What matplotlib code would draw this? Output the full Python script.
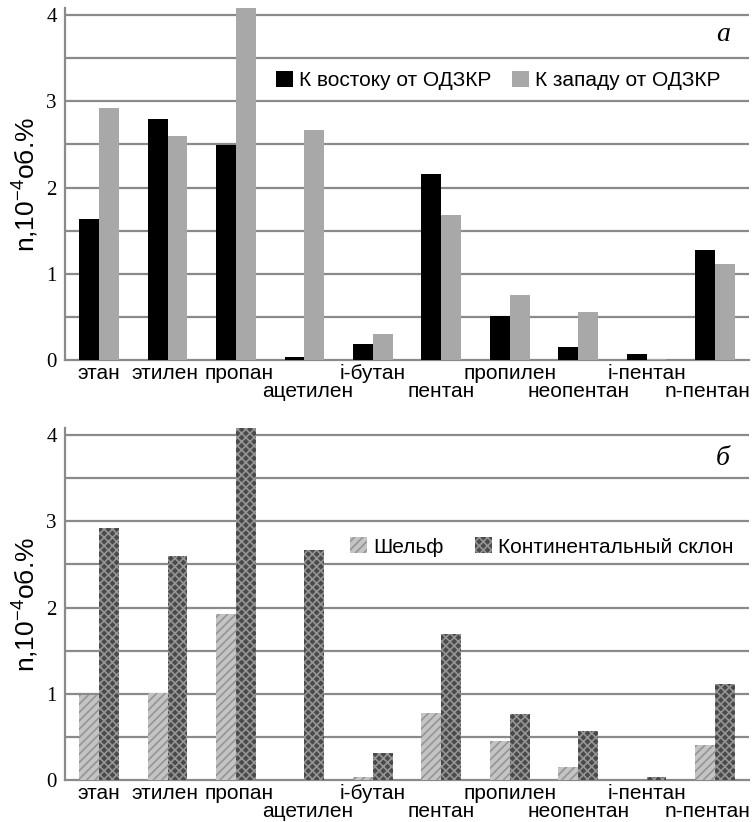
"""
    Газы: сравнение концентраций по районам
"""

import matplotlib
matplotlib.use('Agg')
import matplotlib.pyplot as plt
import matplotlib.transforms as mtransforms
import numpy as np

plt.rcParams['font.family'] = ['Liberation Sans', 'DejaVu Sans']
plt.rcParams['hatch.linewidth'] = 1.2
plt.rcParams['mathtext.default'] = 'regular'

gases = ['этан', 'этилен', 'пропан', 'ацетилен', 'i-бутан', 'пентан',
         'пропилен', 'неопентан', 'i-пентан', 'n-пентан']
row = [0, 0, 0, 1, 0, 1, 0, 1, 0, 1]  # 1 - подпись во втором ряду
nudge = [0, -3, 3, 3, 0, 0, 0, 0, 0, -7]  # сдвиг подписей, px

# а: восток / запад от ОДЗКР
east = [1.63, 2.80, 2.49, 0.04, 0.19, 2.16, 0.51, 0.15, 0.07, 1.28]
west = [2.92, 2.60, 4.10, 2.67, 0.30, 1.68, 0.75, 0.56, 0.015, 1.11]

# б: шельф / континентальный склон
shelf = [0.98, 1.01, 1.93, 0.0, 0.03, 0.78, 0.45, 0.15, 0.0, 0.41]
slope = [2.92, 2.60, 4.10, 2.67, 0.31, 1.69, 0.76, 0.57, 0.03, 1.11]

yticks = [0, 1, 2, 3, 4]

fig = plt.figure(figsize=(7.56, 8.22), dpi=100)
ax1 = fig.add_axes([0.086, 0.562, 0.905, 0.428])
ax2 = fig.add_axes([0.086, 0.0511, 0.905, 0.428])

x = np.arange(len(gases))
w = 0.29

ax1.bar(x - w / 2, east, w, color='black', label='К востоку от ОДЗКР', zorder=3)
ax1.bar(x + w / 2, west, w, color='#a8a8a8', label='К западу от ОДЗКР', zorder=3)

ax2.bar(x - w / 2, shelf, w, color='#c4c4c4', edgecolor='#959595', hatch='////',
        linewidth=0, label='Шельф', zorder=3)
ax2.bar(x + w / 2, slope, w, color='#4a4a4a', edgecolor='#959595', hatch='xxxx',
        linewidth=0, label='Континентальный склон', zorder=3)

for ax, letter, ly, leg, csp in [(ax1, 'а', 0.925, (0.296, 0.795), 1.0),
                                 (ax2, 'б', 0.915, (0.405, 0.662), 1.5)]:
    ax.set_xlim(-0.5, len(gases) - 0.5)
    ax.set_ylim(0, 4.08)
    ax.set_yticks(yticks)
    ax.set_yticklabels([str(t) for t in yticks], family='Liberation Serif', fontsize=15)
    for g in np.arange(0.5, 4.01, 0.5):
        ax.axhline(g, color='#8a8a8a', lw=1.6, zorder=1)
    ax.set_xticks(x)
    ax.set_xticklabels([])
    # подписи газов в два ряда, как в оригинале
    base = ax.get_xaxis_transform()
    for xi, g, r, dx in zip(x, gases, row, nudge):
        off = mtransforms.ScaledTranslation(dx / 100, -(3 + 12.5 * r) / 72,
                                            fig.dpi_scale_trans)
        ax.text(xi, 0, g, transform=base + off, ha='center', va='top', fontsize=15)
    ax.tick_params(axis='both', length=0, pad=3)
    ax.tick_params(axis='y', pad=6)
    for s in ['top', 'right']:
        ax.spines[s].set_visible(False)
    ax.spines['left'].set_color('#8a8a8a')
    ax.spines['left'].set_linewidth(1.6)
    ax.spines['bottom'].set_color('#8a8a8a')
    ax.spines['bottom'].set_linewidth(1.6)
    ax.set_ylabel('n,10$^{-4}$об.%', fontsize=19, labelpad=4)
    ax.text(0.962, ly, letter, transform=ax.transAxes, family='Liberation Serif',
            style='italic', fontsize=20, ha='center', va='center')
    ax.legend(loc='center left', bbox_to_anchor=leg, ncol=2, frameon=False,
              fontsize=15, handlelength=0.8, handleheight=0.8, handletextpad=0.3,
              columnspacing=csp, borderaxespad=0)

fig.savefig('out.png', dpi=100)
